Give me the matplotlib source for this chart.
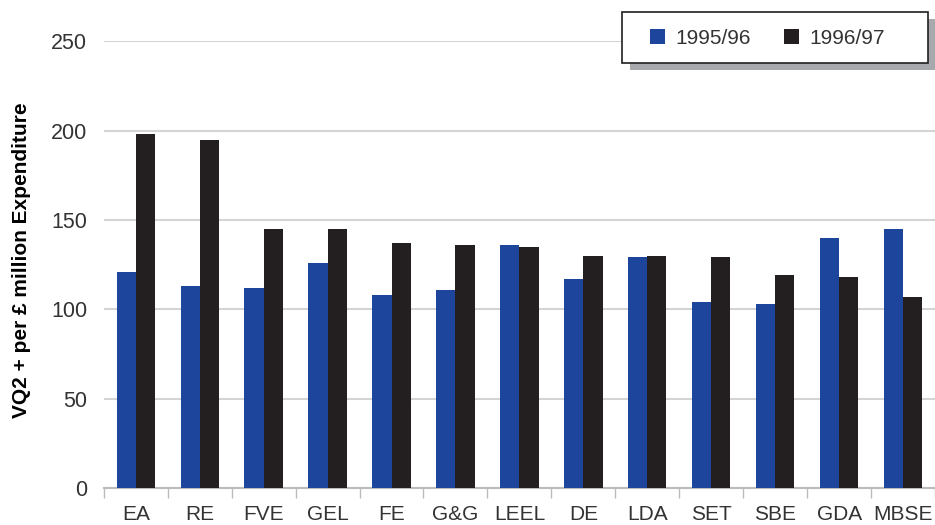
import numpy as np
import matplotlib.pyplot as plt
from matplotlib.patches import Patch, Rectangle

# Values per region
regions = ["EA", "RE", "FVE", "GEL", "FE", "G&G", "LEEL", "DE", "LDA", "SET", "SBE", "GDA", "MBSE"]
y1995 = [121, 113, 112, 126, 108, 111, 136, 117, 129, 104, 103, 140, 145]
y1996 = [198, 195, 145, 145, 137, 136, 135, 130, 130, 129, 119, 118, 107]

blue = "#1c459b"
dark = "#231f20"
txt = "#333333"

plt.rcParams["font.family"] = ["Liberation Sans", "DejaVu Sans"]

W, H = 935, 525
fig = plt.figure(figsize=(W / 100, H / 100), dpi=100)
ax = fig.add_axes([0.111, 0.0705, 0.889, 0.851])

x = np.arange(len(regions))
w = 0.3
ax.bar(x - w / 2, y1995, w, color=blue, zorder=3)
ax.bar(x + w / 2, y1996, w, color=dark, zorder=3)

ax.set_xlim(-0.5, len(regions) - 0.5)
ax.set_ylim(0, 250)
ax.set_yticks([0, 50, 100, 150, 200, 250])
ax.yaxis.grid(True, color="#d4d4d4", linewidth=1.5, zorder=0)
ax.tick_params(axis="y", length=0, pad=12, labelsize=15.5, labelcolor=txt)

# category boundaries carry the ticks, labels sit at centres
ax.set_xticks(np.arange(len(regions) + 1) - 0.5)
ax.set_xticklabels([])
ax.set_xticks(x, minor=True)
ax.set_xticklabels(regions, minor=True)
ax.tick_params(axis="x", which="major", length=7, color="#bbbbbb", width=1)
ax.tick_params(axis="x", which="minor", length=0, pad=12, labelsize=15, labelcolor=txt)

for s in ["top", "right", "left"]:
    ax.spines[s].set_visible(False)
ax.spines["bottom"].set_color("#bbbbbb")
ax.spines["bottom"].set_linewidth(1.5)

ax.set_ylabel("VQ2 + per £ million Expenditure", fontsize=15, fontweight="bold")
ax.yaxis.set_label_coords(-0.088, 0.51)

# legend box with a drop shadow
x0, y0, x1, y1 = 622, 12, 928, 63
fig.patches.append(Rectangle(((x0 + 8) / W, 1 - (y1 + 7) / H), (x1 - x0) / W, (y1 - y0) / H,
                             transform=fig.transFigure, facecolor="#a7a9ac", edgecolor="none", zorder=5))
fig.patches.append(Rectangle((x0 / W, 1 - y1 / H), (x1 - x0) / W, (y1 - y0) / H,
                             transform=fig.transFigure, facecolor="white", edgecolor=dark,
                             linewidth=1.2, zorder=6))

handles = [Patch(facecolor=blue), Patch(facecolor=dark)]
leg = fig.legend(handles, ["1995/96", "1996/97"], ncol=2, loc="center left",
                 bbox_to_anchor=(650 / W, 1 - 38 / H), frameon=False,
                 fontsize=15, handlelength=0.72, handleheight=0.72, handletextpad=0.5,
                 columnspacing=1.6, borderpad=0, borderaxespad=0)
leg.set_zorder(7)
for t in leg.get_texts():
    t.set_color(txt)

fig.savefig("out.png", dpi=100)
